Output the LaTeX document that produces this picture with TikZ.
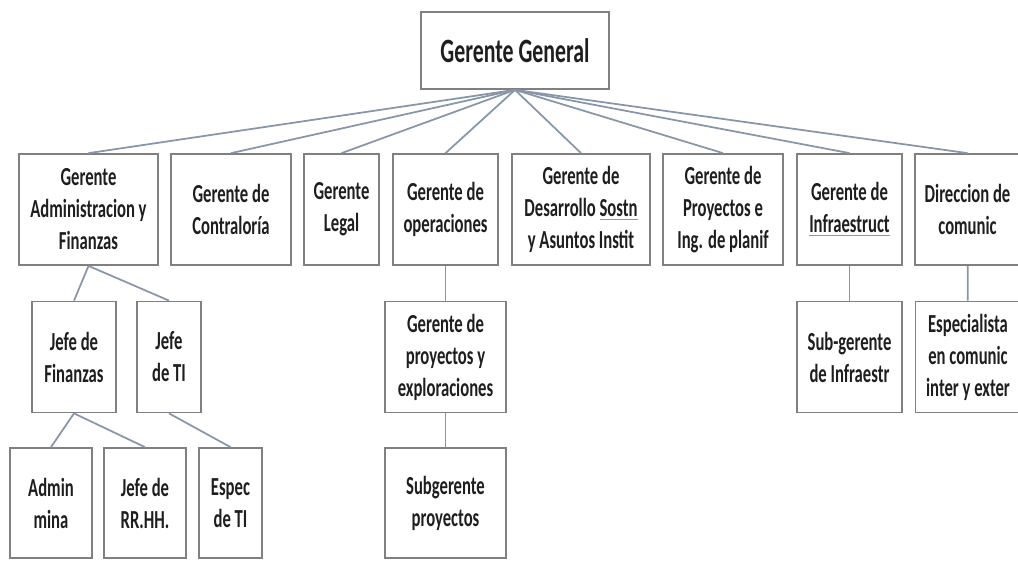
\documentclass[tikz,border=0pt]{standalone}
\usepackage{fontspec}
\setmainfont{Carlito}[FakeStretch=0.64]
\usepackage{xcolor}
\definecolor{boxline}{RGB}{128,128,128}
\definecolor{linkline}{RGB}{135,150,168}
\definecolor{txt}{RGB}{30,30,30}
\newcommand{\spellmark}[1]{\textcolor{red!60}{\underline{\textcolor{txt}{#1}}}}

\begin{document}
\begin{tikzpicture}[x=0.02cm,y=-0.02cm,
    caja/.style={draw=boxline,line width=1pt,fill=white,inner sep=0pt,align=center,text=txt,
      font=\bfseries\fontsize{14.8}{18.2}\selectfont,minimum height=2.22cm},
    enlace/.style={draw=linkline,line width=1pt}]
    \useasboundingbox (0,0) rectangle (1018,561);

    % nivel superior
    \node[caja,minimum width=3.76cm,minimum height=1.54cm,font=\bfseries\fontsize{19.4}{23}\selectfont] (gg) at (515,50.5) {Gerente General};

    % gerencias
    \node[caja,minimum width=2.78cm] (adm) at (88.5,209.5) {Gerente\\Administracion y\\Finanzas};
    \node[caja,minimum width=2.4cm] (contr) at (231,209.5) {Gerente de\\Contraloría};
    \node[caja,minimum width=1.5cm] (legal) at (341.5,209.5) {Gerente\\Legal};
    \node[caja,minimum width=2.1cm] (oper) at (445.5,209.5) {Gerente de\\operaciones};
    \node[caja,minimum width=2.76cm] (desa) at (581,209.5) {Gerente de\\Desarrollo \spellmark{Sostn}\\y Asuntos Instit};
    \node[caja,minimum width=2.4cm] (proy) at (723,209.5) {Gerente de\\Proyectos e\\Ing. de planif};
    \node[caja,minimum width=2.1cm] (infra) at (849.5,209.5) {Gerente de\\\spellmark{Infraestruct}};
    \node[caja,minimum width=2.1cm] (dir) at (967.5,209.5) {Direccion de\\comunic};

    % segundo nivel
    \node[caja,minimum width=1.68cm] (jfin) at (74,357) {Jefe de\\Finanzas};
    \node[caja,minimum width=1.28cm] (jti) at (169,357) {Jefe\\de TI};
    \node[caja,minimum width=2.42cm] (gpe) at (445.5,357) {Gerente de\\proyectos y\\exploraciones};
    \node[caja,minimum width=2.1cm] (subinf) at (849.5,357) {Sub-gerente\\de Infraestr};
    \node[caja,minimum width=2.1cm] (espc) at (968,357) {Especialista\\en comunic\\inter y exter};

    % tercer nivel
    \node[caja,minimum width=1.64cm,minimum height=2.2cm] (admin) at (51,503) {Admin\\mina};
    \node[caja,minimum width=1.64cm,minimum height=2.2cm] (rrhh) at (145,503) {Jefe de\\RR.HH.};
    \node[caja,minimum width=1.26cm,minimum height=2.2cm] (espti) at (230.5,503) {Espec\\de TI};
    \node[caja,minimum width=2.42cm,minimum height=2.2cm] (subp) at (445.5,503) {Subgerente\\proyectos};

    \foreach \n in {adm,contr,legal,oper,desa,proy,infra,dir}
        \draw[enlace] (gg.south) -- (\n.north);
    \draw[enlace] (adm.south) -- (jfin.north);
    \draw[enlace] (adm.south) -- (jti.north);
    \draw[enlace] (jfin.south) -- (admin.north);
    \draw[enlace] (jfin.south) -- (rrhh.north);
    \draw[enlace] (jti.south) -- (espti.north);
    \draw[enlace] (oper) -- (gpe) -- (subp);
    \draw[enlace] (infra) -- (subinf);
    \draw[enlace] (dir) -- (espc);
\end{tikzpicture}
\end{document}
